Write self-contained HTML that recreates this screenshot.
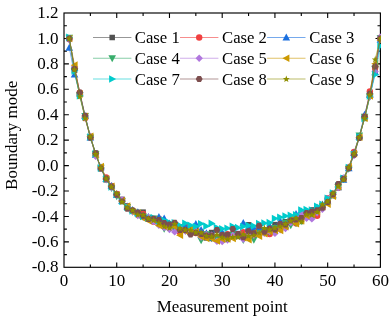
<!DOCTYPE html>
<html><head><meta charset="utf-8"><title>Boundary mode</title><style>html,body{margin:0;padding:0;background:#fff}body{width:392px;height:319px;overflow:hidden}#w{width:392px;height:319px;will-change:transform;transform:translateZ(0)}</style></head><body><div id="w">
<svg width="392" height="319" viewBox="0 0 392 319" style="display:block">
<rect width="392" height="319" fill="#fff"/>
<defs><clipPath id="cp"><rect x="63.4" y="12.4" width="317.59999999999997" height="255.5"/></clipPath></defs>
<rect x="64.0" y="13.0" width="316.4" height="254.3" fill="none" stroke="#000" stroke-width="1.15"/>
<path d="M90.37,267.3v-2.9M90.37,13.0v2.9M116.73,267.3v-4.9M116.73,13.0v4.9M143.10,267.3v-2.9M143.10,13.0v2.9M169.47,267.3v-4.9M169.47,13.0v4.9M195.83,267.3v-2.9M195.83,13.0v2.9M222.20,267.3v-4.9M222.20,13.0v4.9M248.57,267.3v-2.9M248.57,13.0v2.9M274.93,267.3v-4.9M274.93,13.0v4.9M301.30,267.3v-2.9M301.30,13.0v2.9M327.67,267.3v-4.9M327.67,13.0v4.9M354.03,267.3v-2.9M354.03,13.0v2.9M64.0,25.71h2.9M380.4,25.71h-2.9M64.0,38.43h4.9M380.4,38.43h-4.9M64.0,51.15h2.9M380.4,51.15h-2.9M64.0,63.86h4.9M380.4,63.86h-4.9M64.0,76.58h2.9M380.4,76.58h-2.9M64.0,89.29h4.9M380.4,89.29h-4.9M64.0,102.01h2.9M380.4,102.01h-2.9M64.0,114.72h4.9M380.4,114.72h-4.9M64.0,127.44h2.9M380.4,127.44h-2.9M64.0,140.15h4.9M380.4,140.15h-4.9M64.0,152.87h2.9M380.4,152.87h-2.9M64.0,165.58h4.9M380.4,165.58h-4.9M64.0,178.30h2.9M380.4,178.30h-2.9M64.0,191.01h4.9M380.4,191.01h-4.9M64.0,203.72h2.9M380.4,203.72h-2.9M64.0,216.44h4.9M380.4,216.44h-4.9M64.0,229.16h2.9M380.4,229.16h-2.9M64.0,241.87h4.9M380.4,241.87h-4.9M64.0,254.58h2.9M380.4,254.58h-2.9" stroke="#000" stroke-width="1.1" fill="none"/>
<g clip-path="url(#cp)">
<polyline fill="none" stroke="#515151" stroke-width="0.6" points="69.27,38.43 74.55,70.22 79.82,93.45 85.09,117.45 90.37,136.55 95.64,153.16 100.91,168.70 106.19,179.83 111.46,186.05 116.73,194.35 122.01,199.36 127.28,205.86 132.55,211.01 137.83,214.34 143.10,212.14 148.37,218.08 153.65,220.80 158.92,223.40 164.19,222.77 169.47,224.60 174.74,227.15 180.01,227.99 185.29,228.54 190.56,228.64 195.83,228.92 201.11,232.21 206.38,237.93 211.65,232.55 216.93,238.18 222.20,235.42 227.47,238.56 232.75,234.74 238.02,236.12 243.29,233.09 248.57,224.74 253.84,231.69 259.11,228.26 264.39,232.35 269.66,228.45 274.93,224.63 280.21,224.93 285.48,221.78 290.75,220.64 296.03,221.40 301.30,215.88 306.57,217.09 311.85,209.90 317.12,211.41 322.39,205.53 327.67,200.62 332.94,193.53 338.21,187.21 343.49,177.73 348.76,167.72 354.03,153.01 359.31,136.42 364.58,118.40 369.85,95.92 375.13,70.22 380.40,38.43"/>
<rect x="66.52" y="35.68" width="5.50" height="5.50" fill="#515151"/>
<rect x="71.80" y="67.47" width="5.50" height="5.50" fill="#515151"/>
<rect x="77.07" y="90.70" width="5.50" height="5.50" fill="#515151"/>
<rect x="82.34" y="114.70" width="5.50" height="5.50" fill="#515151"/>
<rect x="87.62" y="133.80" width="5.50" height="5.50" fill="#515151"/>
<rect x="92.89" y="150.41" width="5.50" height="5.50" fill="#515151"/>
<rect x="98.16" y="165.95" width="5.50" height="5.50" fill="#515151"/>
<rect x="103.44" y="177.08" width="5.50" height="5.50" fill="#515151"/>
<rect x="108.71" y="183.30" width="5.50" height="5.50" fill="#515151"/>
<rect x="113.98" y="191.60" width="5.50" height="5.50" fill="#515151"/>
<rect x="119.26" y="196.61" width="5.50" height="5.50" fill="#515151"/>
<rect x="124.53" y="203.11" width="5.50" height="5.50" fill="#515151"/>
<rect x="129.80" y="208.26" width="5.50" height="5.50" fill="#515151"/>
<rect x="135.08" y="211.59" width="5.50" height="5.50" fill="#515151"/>
<rect x="140.35" y="209.39" width="5.50" height="5.50" fill="#515151"/>
<rect x="145.62" y="215.33" width="5.50" height="5.50" fill="#515151"/>
<rect x="150.90" y="218.05" width="5.50" height="5.50" fill="#515151"/>
<rect x="156.17" y="220.65" width="5.50" height="5.50" fill="#515151"/>
<rect x="161.44" y="220.02" width="5.50" height="5.50" fill="#515151"/>
<rect x="166.72" y="221.85" width="5.50" height="5.50" fill="#515151"/>
<rect x="171.99" y="224.40" width="5.50" height="5.50" fill="#515151"/>
<rect x="177.26" y="225.24" width="5.50" height="5.50" fill="#515151"/>
<rect x="182.54" y="225.79" width="5.50" height="5.50" fill="#515151"/>
<rect x="187.81" y="225.89" width="5.50" height="5.50" fill="#515151"/>
<rect x="193.08" y="226.17" width="5.50" height="5.50" fill="#515151"/>
<rect x="198.36" y="229.46" width="5.50" height="5.50" fill="#515151"/>
<rect x="203.63" y="235.18" width="5.50" height="5.50" fill="#515151"/>
<rect x="208.90" y="229.80" width="5.50" height="5.50" fill="#515151"/>
<rect x="214.18" y="235.43" width="5.50" height="5.50" fill="#515151"/>
<rect x="219.45" y="232.67" width="5.50" height="5.50" fill="#515151"/>
<rect x="224.72" y="235.81" width="5.50" height="5.50" fill="#515151"/>
<rect x="230.00" y="231.99" width="5.50" height="5.50" fill="#515151"/>
<rect x="235.27" y="233.37" width="5.50" height="5.50" fill="#515151"/>
<rect x="240.54" y="230.34" width="5.50" height="5.50" fill="#515151"/>
<rect x="245.82" y="221.99" width="5.50" height="5.50" fill="#515151"/>
<rect x="251.09" y="228.94" width="5.50" height="5.50" fill="#515151"/>
<rect x="256.36" y="225.51" width="5.50" height="5.50" fill="#515151"/>
<rect x="261.64" y="229.60" width="5.50" height="5.50" fill="#515151"/>
<rect x="266.91" y="225.70" width="5.50" height="5.50" fill="#515151"/>
<rect x="272.18" y="221.88" width="5.50" height="5.50" fill="#515151"/>
<rect x="277.46" y="222.18" width="5.50" height="5.50" fill="#515151"/>
<rect x="282.73" y="219.03" width="5.50" height="5.50" fill="#515151"/>
<rect x="288.00" y="217.89" width="5.50" height="5.50" fill="#515151"/>
<rect x="293.28" y="218.65" width="5.50" height="5.50" fill="#515151"/>
<rect x="298.55" y="213.13" width="5.50" height="5.50" fill="#515151"/>
<rect x="303.82" y="214.34" width="5.50" height="5.50" fill="#515151"/>
<rect x="309.10" y="207.15" width="5.50" height="5.50" fill="#515151"/>
<rect x="314.37" y="208.66" width="5.50" height="5.50" fill="#515151"/>
<rect x="319.64" y="202.78" width="5.50" height="5.50" fill="#515151"/>
<rect x="324.92" y="197.87" width="5.50" height="5.50" fill="#515151"/>
<rect x="330.19" y="190.78" width="5.50" height="5.50" fill="#515151"/>
<rect x="335.46" y="184.46" width="5.50" height="5.50" fill="#515151"/>
<rect x="340.74" y="174.98" width="5.50" height="5.50" fill="#515151"/>
<rect x="346.01" y="164.97" width="5.50" height="5.50" fill="#515151"/>
<rect x="351.28" y="150.26" width="5.50" height="5.50" fill="#515151"/>
<rect x="356.56" y="133.67" width="5.50" height="5.50" fill="#515151"/>
<rect x="361.83" y="115.65" width="5.50" height="5.50" fill="#515151"/>
<rect x="367.10" y="93.17" width="5.50" height="5.50" fill="#515151"/>
<rect x="372.38" y="67.47" width="5.50" height="5.50" fill="#515151"/>
<rect x="377.65" y="35.68" width="5.50" height="5.50" fill="#515151"/>
<polyline fill="none" stroke="#F14040" stroke-width="0.6" points="69.27,39.07 74.55,68.31 79.82,92.61 85.09,118.06 90.37,137.87 95.64,154.49 100.91,167.09 106.19,177.33 111.46,185.83 116.73,193.90 122.01,200.25 127.28,206.42 132.55,211.07 137.83,213.54 143.10,213.98 148.37,219.02 153.65,221.68 158.92,218.79 164.19,223.83 169.47,224.34 174.74,226.04 180.01,232.25 185.29,225.20 190.56,227.91 195.83,233.05 201.11,232.80 206.38,235.21 211.65,238.28 216.93,236.93 222.20,236.01 227.47,234.22 232.75,234.94 238.02,236.00 243.29,232.24 248.57,236.46 253.84,231.56 259.11,229.52 264.39,231.77 269.66,233.99 274.93,230.33 280.21,226.04 285.48,223.30 290.75,219.06 296.03,223.26 301.30,218.90 306.57,215.53 311.85,215.21 317.12,215.77 322.39,206.17 327.67,198.08 332.94,193.81 338.21,187.70 343.49,179.08 348.76,167.42 354.03,151.92 359.31,136.42 364.58,117.90 369.85,91.34 375.13,67.67 380.40,37.79"/>
<circle cx="69.27" cy="39.07" r="3.20" fill="#F14040"/>
<circle cx="74.55" cy="68.31" r="3.20" fill="#F14040"/>
<circle cx="79.82" cy="92.61" r="3.20" fill="#F14040"/>
<circle cx="85.09" cy="118.06" r="3.20" fill="#F14040"/>
<circle cx="90.37" cy="137.87" r="3.20" fill="#F14040"/>
<circle cx="95.64" cy="154.49" r="3.20" fill="#F14040"/>
<circle cx="100.91" cy="167.09" r="3.20" fill="#F14040"/>
<circle cx="106.19" cy="177.33" r="3.20" fill="#F14040"/>
<circle cx="111.46" cy="185.83" r="3.20" fill="#F14040"/>
<circle cx="116.73" cy="193.90" r="3.20" fill="#F14040"/>
<circle cx="122.01" cy="200.25" r="3.20" fill="#F14040"/>
<circle cx="127.28" cy="206.42" r="3.20" fill="#F14040"/>
<circle cx="132.55" cy="211.07" r="3.20" fill="#F14040"/>
<circle cx="137.83" cy="213.54" r="3.20" fill="#F14040"/>
<circle cx="143.10" cy="213.98" r="3.20" fill="#F14040"/>
<circle cx="148.37" cy="219.02" r="3.20" fill="#F14040"/>
<circle cx="153.65" cy="221.68" r="3.20" fill="#F14040"/>
<circle cx="158.92" cy="218.79" r="3.20" fill="#F14040"/>
<circle cx="164.19" cy="223.83" r="3.20" fill="#F14040"/>
<circle cx="169.47" cy="224.34" r="3.20" fill="#F14040"/>
<circle cx="174.74" cy="226.04" r="3.20" fill="#F14040"/>
<circle cx="180.01" cy="232.25" r="3.20" fill="#F14040"/>
<circle cx="185.29" cy="225.20" r="3.20" fill="#F14040"/>
<circle cx="190.56" cy="227.91" r="3.20" fill="#F14040"/>
<circle cx="195.83" cy="233.05" r="3.20" fill="#F14040"/>
<circle cx="201.11" cy="232.80" r="3.20" fill="#F14040"/>
<circle cx="206.38" cy="235.21" r="3.20" fill="#F14040"/>
<circle cx="211.65" cy="238.28" r="3.20" fill="#F14040"/>
<circle cx="216.93" cy="236.93" r="3.20" fill="#F14040"/>
<circle cx="222.20" cy="236.01" r="3.20" fill="#F14040"/>
<circle cx="227.47" cy="234.22" r="3.20" fill="#F14040"/>
<circle cx="232.75" cy="234.94" r="3.20" fill="#F14040"/>
<circle cx="238.02" cy="236.00" r="3.20" fill="#F14040"/>
<circle cx="243.29" cy="232.24" r="3.20" fill="#F14040"/>
<circle cx="248.57" cy="236.46" r="3.20" fill="#F14040"/>
<circle cx="253.84" cy="231.56" r="3.20" fill="#F14040"/>
<circle cx="259.11" cy="229.52" r="3.20" fill="#F14040"/>
<circle cx="264.39" cy="231.77" r="3.20" fill="#F14040"/>
<circle cx="269.66" cy="233.99" r="3.20" fill="#F14040"/>
<circle cx="274.93" cy="230.33" r="3.20" fill="#F14040"/>
<circle cx="280.21" cy="226.04" r="3.20" fill="#F14040"/>
<circle cx="285.48" cy="223.30" r="3.20" fill="#F14040"/>
<circle cx="290.75" cy="219.06" r="3.20" fill="#F14040"/>
<circle cx="296.03" cy="223.26" r="3.20" fill="#F14040"/>
<circle cx="301.30" cy="218.90" r="3.20" fill="#F14040"/>
<circle cx="306.57" cy="215.53" r="3.20" fill="#F14040"/>
<circle cx="311.85" cy="215.21" r="3.20" fill="#F14040"/>
<circle cx="317.12" cy="215.77" r="3.20" fill="#F14040"/>
<circle cx="322.39" cy="206.17" r="3.20" fill="#F14040"/>
<circle cx="327.67" cy="198.08" r="3.20" fill="#F14040"/>
<circle cx="332.94" cy="193.81" r="3.20" fill="#F14040"/>
<circle cx="338.21" cy="187.70" r="3.20" fill="#F14040"/>
<circle cx="343.49" cy="179.08" r="3.20" fill="#F14040"/>
<circle cx="348.76" cy="167.42" r="3.20" fill="#F14040"/>
<circle cx="354.03" cy="151.92" r="3.20" fill="#F14040"/>
<circle cx="359.31" cy="136.42" r="3.20" fill="#F14040"/>
<circle cx="364.58" cy="117.90" r="3.20" fill="#F14040"/>
<circle cx="369.85" cy="91.34" r="3.20" fill="#F14040"/>
<circle cx="375.13" cy="67.67" r="3.20" fill="#F14040"/>
<circle cx="380.40" cy="37.79" r="3.20" fill="#F14040"/>
<polyline fill="none" stroke="#1A6FDF" stroke-width="0.6" points="69.27,47.58 74.55,74.29 79.82,93.49 85.09,115.92 90.37,137.51 95.64,154.61 100.91,167.09 106.19,178.97 111.46,185.95 116.73,194.62 122.01,200.98 127.28,206.44 132.55,209.91 137.83,212.23 143.10,215.65 148.37,216.95 153.65,220.56 158.92,216.81 164.19,218.39 169.47,223.49 174.74,225.48 180.01,228.63 185.29,226.59 190.56,227.55 195.83,224.01 201.11,229.83 206.38,233.20 211.65,237.86 216.93,229.06 222.20,232.26 227.47,236.60 232.75,232.03 238.02,235.84 243.29,222.91 248.57,227.72 253.84,227.90 259.11,228.43 264.39,232.04 269.66,225.77 274.93,227.70 280.21,220.98 285.48,225.55 290.75,220.79 296.03,213.87 301.30,211.32 306.57,216.01 311.85,214.97 317.12,207.68 322.39,204.28 327.67,201.26 332.94,195.03 338.21,187.11 343.49,179.70 348.76,168.22 354.03,153.02 359.31,136.36 364.58,114.74 369.85,95.02 375.13,72.12 380.40,39.70"/>
<polygon points="69.27,43.68 73.07,50.68 65.47,50.68" fill="#1A6FDF"/>
<polygon points="74.55,70.39 78.35,77.39 70.75,77.39" fill="#1A6FDF"/>
<polygon points="79.82,89.59 83.62,96.59 76.02,96.59" fill="#1A6FDF"/>
<polygon points="85.09,112.02 88.89,119.02 81.29,119.02" fill="#1A6FDF"/>
<polygon points="90.37,133.61 94.17,140.61 86.57,140.61" fill="#1A6FDF"/>
<polygon points="95.64,150.71 99.44,157.71 91.84,157.71" fill="#1A6FDF"/>
<polygon points="100.91,163.19 104.71,170.19 97.11,170.19" fill="#1A6FDF"/>
<polygon points="106.19,175.07 109.99,182.07 102.39,182.07" fill="#1A6FDF"/>
<polygon points="111.46,182.05 115.26,189.05 107.66,189.05" fill="#1A6FDF"/>
<polygon points="116.73,190.72 120.53,197.72 112.93,197.72" fill="#1A6FDF"/>
<polygon points="122.01,197.08 125.81,204.08 118.21,204.08" fill="#1A6FDF"/>
<polygon points="127.28,202.54 131.08,209.54 123.48,209.54" fill="#1A6FDF"/>
<polygon points="132.55,206.01 136.35,213.01 128.75,213.01" fill="#1A6FDF"/>
<polygon points="137.83,208.33 141.63,215.33 134.03,215.33" fill="#1A6FDF"/>
<polygon points="143.10,211.75 146.90,218.75 139.30,218.75" fill="#1A6FDF"/>
<polygon points="148.37,213.05 152.17,220.05 144.57,220.05" fill="#1A6FDF"/>
<polygon points="153.65,216.66 157.45,223.66 149.85,223.66" fill="#1A6FDF"/>
<polygon points="158.92,212.91 162.72,219.91 155.12,219.91" fill="#1A6FDF"/>
<polygon points="164.19,214.49 167.99,221.49 160.39,221.49" fill="#1A6FDF"/>
<polygon points="169.47,219.59 173.27,226.59 165.67,226.59" fill="#1A6FDF"/>
<polygon points="174.74,221.58 178.54,228.58 170.94,228.58" fill="#1A6FDF"/>
<polygon points="180.01,224.73 183.81,231.73 176.21,231.73" fill="#1A6FDF"/>
<polygon points="185.29,222.69 189.09,229.69 181.49,229.69" fill="#1A6FDF"/>
<polygon points="190.56,223.65 194.36,230.65 186.76,230.65" fill="#1A6FDF"/>
<polygon points="195.83,220.11 199.63,227.11 192.03,227.11" fill="#1A6FDF"/>
<polygon points="201.11,225.93 204.91,232.93 197.31,232.93" fill="#1A6FDF"/>
<polygon points="206.38,229.30 210.18,236.30 202.58,236.30" fill="#1A6FDF"/>
<polygon points="211.65,233.96 215.45,240.96 207.85,240.96" fill="#1A6FDF"/>
<polygon points="216.93,225.16 220.73,232.16 213.13,232.16" fill="#1A6FDF"/>
<polygon points="222.20,228.36 226.00,235.36 218.40,235.36" fill="#1A6FDF"/>
<polygon points="227.47,232.70 231.27,239.70 223.67,239.70" fill="#1A6FDF"/>
<polygon points="232.75,228.13 236.55,235.13 228.95,235.13" fill="#1A6FDF"/>
<polygon points="238.02,231.94 241.82,238.94 234.22,238.94" fill="#1A6FDF"/>
<polygon points="243.29,219.01 247.09,226.01 239.49,226.01" fill="#1A6FDF"/>
<polygon points="248.57,223.82 252.37,230.82 244.77,230.82" fill="#1A6FDF"/>
<polygon points="253.84,224.00 257.64,231.00 250.04,231.00" fill="#1A6FDF"/>
<polygon points="259.11,224.53 262.91,231.53 255.31,231.53" fill="#1A6FDF"/>
<polygon points="264.39,228.14 268.19,235.14 260.59,235.14" fill="#1A6FDF"/>
<polygon points="269.66,221.87 273.46,228.87 265.86,228.87" fill="#1A6FDF"/>
<polygon points="274.93,223.80 278.73,230.80 271.13,230.80" fill="#1A6FDF"/>
<polygon points="280.21,217.08 284.01,224.08 276.41,224.08" fill="#1A6FDF"/>
<polygon points="285.48,221.65 289.28,228.65 281.68,228.65" fill="#1A6FDF"/>
<polygon points="290.75,216.89 294.55,223.89 286.95,223.89" fill="#1A6FDF"/>
<polygon points="296.03,209.97 299.83,216.97 292.23,216.97" fill="#1A6FDF"/>
<polygon points="301.30,207.42 305.10,214.42 297.50,214.42" fill="#1A6FDF"/>
<polygon points="306.57,212.11 310.37,219.11 302.77,219.11" fill="#1A6FDF"/>
<polygon points="311.85,211.07 315.65,218.07 308.05,218.07" fill="#1A6FDF"/>
<polygon points="317.12,203.78 320.92,210.78 313.32,210.78" fill="#1A6FDF"/>
<polygon points="322.39,200.38 326.19,207.38 318.59,207.38" fill="#1A6FDF"/>
<polygon points="327.67,197.36 331.47,204.36 323.87,204.36" fill="#1A6FDF"/>
<polygon points="332.94,191.13 336.74,198.13 329.14,198.13" fill="#1A6FDF"/>
<polygon points="338.21,183.21 342.01,190.21 334.41,190.21" fill="#1A6FDF"/>
<polygon points="343.49,175.80 347.29,182.80 339.69,182.80" fill="#1A6FDF"/>
<polygon points="348.76,164.32 352.56,171.32 344.96,171.32" fill="#1A6FDF"/>
<polygon points="354.03,149.12 357.83,156.12 350.23,156.12" fill="#1A6FDF"/>
<polygon points="359.31,132.46 363.11,139.46 355.51,139.46" fill="#1A6FDF"/>
<polygon points="364.58,110.84 368.38,117.84 360.78,117.84" fill="#1A6FDF"/>
<polygon points="369.85,91.12 373.65,98.12 366.05,98.12" fill="#1A6FDF"/>
<polygon points="375.13,68.22 378.93,75.22 371.33,75.22" fill="#1A6FDF"/>
<polygon points="380.40,35.80 384.20,42.80 376.60,42.80" fill="#1A6FDF"/>
<polyline fill="none" stroke="#37AD6B" stroke-width="0.6" points="69.27,37.79 74.55,71.49 79.82,95.49 85.09,116.21 90.37,137.61 95.64,154.06 100.91,167.95 106.19,179.67 111.46,188.21 116.73,196.23 122.01,201.06 127.28,207.09 132.55,211.97 137.83,212.88 143.10,216.49 148.37,217.87 153.65,218.72 158.92,224.41 164.19,228.76 169.47,225.31 174.74,230.11 180.01,227.10 185.29,230.83 190.56,230.40 195.83,232.27 201.11,240.28 206.38,234.41 211.65,238.41 216.93,239.12 222.20,238.60 227.47,235.69 232.75,235.16 238.02,234.34 243.29,240.16 248.57,236.68 253.84,239.85 259.11,233.09 264.39,230.25 269.66,232.15 274.93,228.18 280.21,226.69 285.48,222.78 290.75,225.42 296.03,223.46 301.30,221.23 306.57,213.69 311.85,213.21 317.12,212.18 322.39,207.34 327.67,201.23 332.94,194.87 338.21,187.03 343.49,179.02 348.76,168.73 354.03,154.71 359.31,135.50 364.58,116.92 369.85,96.74 375.13,68.95 380.40,38.43"/>
<polygon points="69.27,41.69 73.07,34.69 65.47,34.69" fill="#37AD6B"/>
<polygon points="74.55,75.39 78.35,68.39 70.75,68.39" fill="#37AD6B"/>
<polygon points="79.82,99.39 83.62,92.39 76.02,92.39" fill="#37AD6B"/>
<polygon points="85.09,120.11 88.89,113.11 81.29,113.11" fill="#37AD6B"/>
<polygon points="90.37,141.51 94.17,134.51 86.57,134.51" fill="#37AD6B"/>
<polygon points="95.64,157.96 99.44,150.96 91.84,150.96" fill="#37AD6B"/>
<polygon points="100.91,171.85 104.71,164.85 97.11,164.85" fill="#37AD6B"/>
<polygon points="106.19,183.57 109.99,176.57 102.39,176.57" fill="#37AD6B"/>
<polygon points="111.46,192.11 115.26,185.11 107.66,185.11" fill="#37AD6B"/>
<polygon points="116.73,200.13 120.53,193.13 112.93,193.13" fill="#37AD6B"/>
<polygon points="122.01,204.96 125.81,197.96 118.21,197.96" fill="#37AD6B"/>
<polygon points="127.28,210.99 131.08,203.99 123.48,203.99" fill="#37AD6B"/>
<polygon points="132.55,215.87 136.35,208.87 128.75,208.87" fill="#37AD6B"/>
<polygon points="137.83,216.78 141.63,209.78 134.03,209.78" fill="#37AD6B"/>
<polygon points="143.10,220.39 146.90,213.39 139.30,213.39" fill="#37AD6B"/>
<polygon points="148.37,221.77 152.17,214.77 144.57,214.77" fill="#37AD6B"/>
<polygon points="153.65,222.62 157.45,215.62 149.85,215.62" fill="#37AD6B"/>
<polygon points="158.92,228.31 162.72,221.31 155.12,221.31" fill="#37AD6B"/>
<polygon points="164.19,232.66 167.99,225.66 160.39,225.66" fill="#37AD6B"/>
<polygon points="169.47,229.21 173.27,222.21 165.67,222.21" fill="#37AD6B"/>
<polygon points="174.74,234.01 178.54,227.01 170.94,227.01" fill="#37AD6B"/>
<polygon points="180.01,231.00 183.81,224.00 176.21,224.00" fill="#37AD6B"/>
<polygon points="185.29,234.73 189.09,227.73 181.49,227.73" fill="#37AD6B"/>
<polygon points="190.56,234.30 194.36,227.30 186.76,227.30" fill="#37AD6B"/>
<polygon points="195.83,236.17 199.63,229.17 192.03,229.17" fill="#37AD6B"/>
<polygon points="201.11,244.18 204.91,237.18 197.31,237.18" fill="#37AD6B"/>
<polygon points="206.38,238.31 210.18,231.31 202.58,231.31" fill="#37AD6B"/>
<polygon points="211.65,242.31 215.45,235.31 207.85,235.31" fill="#37AD6B"/>
<polygon points="216.93,243.02 220.73,236.02 213.13,236.02" fill="#37AD6B"/>
<polygon points="222.20,242.50 226.00,235.50 218.40,235.50" fill="#37AD6B"/>
<polygon points="227.47,239.59 231.27,232.59 223.67,232.59" fill="#37AD6B"/>
<polygon points="232.75,239.06 236.55,232.06 228.95,232.06" fill="#37AD6B"/>
<polygon points="238.02,238.24 241.82,231.24 234.22,231.24" fill="#37AD6B"/>
<polygon points="243.29,244.06 247.09,237.06 239.49,237.06" fill="#37AD6B"/>
<polygon points="248.57,240.58 252.37,233.58 244.77,233.58" fill="#37AD6B"/>
<polygon points="253.84,243.75 257.64,236.75 250.04,236.75" fill="#37AD6B"/>
<polygon points="259.11,236.99 262.91,229.99 255.31,229.99" fill="#37AD6B"/>
<polygon points="264.39,234.15 268.19,227.15 260.59,227.15" fill="#37AD6B"/>
<polygon points="269.66,236.05 273.46,229.05 265.86,229.05" fill="#37AD6B"/>
<polygon points="274.93,232.08 278.73,225.08 271.13,225.08" fill="#37AD6B"/>
<polygon points="280.21,230.59 284.01,223.59 276.41,223.59" fill="#37AD6B"/>
<polygon points="285.48,226.68 289.28,219.68 281.68,219.68" fill="#37AD6B"/>
<polygon points="290.75,229.32 294.55,222.32 286.95,222.32" fill="#37AD6B"/>
<polygon points="296.03,227.36 299.83,220.36 292.23,220.36" fill="#37AD6B"/>
<polygon points="301.30,225.13 305.10,218.13 297.50,218.13" fill="#37AD6B"/>
<polygon points="306.57,217.59 310.37,210.59 302.77,210.59" fill="#37AD6B"/>
<polygon points="311.85,217.11 315.65,210.11 308.05,210.11" fill="#37AD6B"/>
<polygon points="317.12,216.08 320.92,209.08 313.32,209.08" fill="#37AD6B"/>
<polygon points="322.39,211.24 326.19,204.24 318.59,204.24" fill="#37AD6B"/>
<polygon points="327.67,205.13 331.47,198.13 323.87,198.13" fill="#37AD6B"/>
<polygon points="332.94,198.77 336.74,191.77 329.14,191.77" fill="#37AD6B"/>
<polygon points="338.21,190.93 342.01,183.93 334.41,183.93" fill="#37AD6B"/>
<polygon points="343.49,182.92 347.29,175.92 339.69,175.92" fill="#37AD6B"/>
<polygon points="348.76,172.63 352.56,165.63 344.96,165.63" fill="#37AD6B"/>
<polygon points="354.03,158.61 357.83,151.61 350.23,151.61" fill="#37AD6B"/>
<polygon points="359.31,139.40 363.11,132.40 355.51,132.40" fill="#37AD6B"/>
<polygon points="364.58,120.82 368.38,113.82 360.78,113.82" fill="#37AD6B"/>
<polygon points="369.85,100.64 373.65,93.64 366.05,93.64" fill="#37AD6B"/>
<polygon points="375.13,72.85 378.93,65.85 371.33,65.85" fill="#37AD6B"/>
<polygon points="380.40,42.33 384.20,35.33 376.60,35.33" fill="#37AD6B"/>
<polyline fill="none" stroke="#B177DE" stroke-width="0.6" points="69.27,39.70 74.55,67.04 79.82,94.38 85.09,117.49 90.37,136.18 95.64,156.24 100.91,167.85 106.19,179.22 111.46,187.26 116.73,194.80 122.01,199.99 127.28,207.20 132.55,211.63 137.83,215.57 143.10,217.03 148.37,217.47 153.65,221.65 158.92,225.18 164.19,227.51 169.47,229.51 174.74,231.92 180.01,227.83 185.29,231.03 190.56,233.65 195.83,230.84 201.11,237.10 206.38,234.58 211.65,235.10 216.93,241.28 222.20,241.56 227.47,240.04 232.75,235.36 238.02,233.91 243.29,239.37 248.57,232.98 253.84,235.29 259.11,234.05 264.39,233.28 269.66,231.34 274.93,233.42 280.21,229.92 285.48,228.45 290.75,222.50 296.03,216.77 301.30,213.48 306.57,218.36 311.85,218.89 317.12,212.83 322.39,209.26 327.67,198.79 332.94,194.48 338.21,187.59 343.49,177.85 348.76,167.14 354.03,155.58 359.31,137.44 364.58,116.53 369.85,96.58 375.13,71.49 380.40,37.16"/>
<polygon points="69.27,36.00 72.97,39.70 69.27,43.40 65.57,39.70" fill="#B177DE"/>
<polygon points="74.55,63.34 78.25,67.04 74.55,70.74 70.85,67.04" fill="#B177DE"/>
<polygon points="79.82,90.68 83.52,94.38 79.82,98.08 76.12,94.38" fill="#B177DE"/>
<polygon points="85.09,113.79 88.79,117.49 85.09,121.19 81.39,117.49" fill="#B177DE"/>
<polygon points="90.37,132.48 94.07,136.18 90.37,139.88 86.67,136.18" fill="#B177DE"/>
<polygon points="95.64,152.54 99.34,156.24 95.64,159.94 91.94,156.24" fill="#B177DE"/>
<polygon points="100.91,164.15 104.61,167.85 100.91,171.55 97.21,167.85" fill="#B177DE"/>
<polygon points="106.19,175.52 109.89,179.22 106.19,182.92 102.49,179.22" fill="#B177DE"/>
<polygon points="111.46,183.56 115.16,187.26 111.46,190.96 107.76,187.26" fill="#B177DE"/>
<polygon points="116.73,191.10 120.43,194.80 116.73,198.50 113.03,194.80" fill="#B177DE"/>
<polygon points="122.01,196.29 125.71,199.99 122.01,203.69 118.31,199.99" fill="#B177DE"/>
<polygon points="127.28,203.50 130.98,207.20 127.28,210.90 123.58,207.20" fill="#B177DE"/>
<polygon points="132.55,207.93 136.25,211.63 132.55,215.33 128.85,211.63" fill="#B177DE"/>
<polygon points="137.83,211.87 141.53,215.57 137.83,219.27 134.13,215.57" fill="#B177DE"/>
<polygon points="143.10,213.33 146.80,217.03 143.10,220.73 139.40,217.03" fill="#B177DE"/>
<polygon points="148.37,213.77 152.07,217.47 148.37,221.17 144.67,217.47" fill="#B177DE"/>
<polygon points="153.65,217.95 157.35,221.65 153.65,225.35 149.95,221.65" fill="#B177DE"/>
<polygon points="158.92,221.48 162.62,225.18 158.92,228.88 155.22,225.18" fill="#B177DE"/>
<polygon points="164.19,223.81 167.89,227.51 164.19,231.21 160.49,227.51" fill="#B177DE"/>
<polygon points="169.47,225.81 173.17,229.51 169.47,233.21 165.77,229.51" fill="#B177DE"/>
<polygon points="174.74,228.22 178.44,231.92 174.74,235.62 171.04,231.92" fill="#B177DE"/>
<polygon points="180.01,224.13 183.71,227.83 180.01,231.53 176.31,227.83" fill="#B177DE"/>
<polygon points="185.29,227.33 188.99,231.03 185.29,234.73 181.59,231.03" fill="#B177DE"/>
<polygon points="190.56,229.95 194.26,233.65 190.56,237.35 186.86,233.65" fill="#B177DE"/>
<polygon points="195.83,227.14 199.53,230.84 195.83,234.54 192.13,230.84" fill="#B177DE"/>
<polygon points="201.11,233.40 204.81,237.10 201.11,240.80 197.41,237.10" fill="#B177DE"/>
<polygon points="206.38,230.88 210.08,234.58 206.38,238.28 202.68,234.58" fill="#B177DE"/>
<polygon points="211.65,231.40 215.35,235.10 211.65,238.80 207.95,235.10" fill="#B177DE"/>
<polygon points="216.93,237.58 220.63,241.28 216.93,244.98 213.23,241.28" fill="#B177DE"/>
<polygon points="222.20,237.86 225.90,241.56 222.20,245.26 218.50,241.56" fill="#B177DE"/>
<polygon points="227.47,236.34 231.17,240.04 227.47,243.74 223.77,240.04" fill="#B177DE"/>
<polygon points="232.75,231.66 236.45,235.36 232.75,239.06 229.05,235.36" fill="#B177DE"/>
<polygon points="238.02,230.21 241.72,233.91 238.02,237.61 234.32,233.91" fill="#B177DE"/>
<polygon points="243.29,235.67 246.99,239.37 243.29,243.07 239.59,239.37" fill="#B177DE"/>
<polygon points="248.57,229.28 252.27,232.98 248.57,236.68 244.87,232.98" fill="#B177DE"/>
<polygon points="253.84,231.59 257.54,235.29 253.84,238.99 250.14,235.29" fill="#B177DE"/>
<polygon points="259.11,230.35 262.81,234.05 259.11,237.75 255.41,234.05" fill="#B177DE"/>
<polygon points="264.39,229.58 268.09,233.28 264.39,236.98 260.69,233.28" fill="#B177DE"/>
<polygon points="269.66,227.64 273.36,231.34 269.66,235.04 265.96,231.34" fill="#B177DE"/>
<polygon points="274.93,229.72 278.63,233.42 274.93,237.12 271.23,233.42" fill="#B177DE"/>
<polygon points="280.21,226.22 283.91,229.92 280.21,233.62 276.51,229.92" fill="#B177DE"/>
<polygon points="285.48,224.75 289.18,228.45 285.48,232.15 281.78,228.45" fill="#B177DE"/>
<polygon points="290.75,218.80 294.45,222.50 290.75,226.20 287.05,222.50" fill="#B177DE"/>
<polygon points="296.03,213.07 299.73,216.77 296.03,220.47 292.33,216.77" fill="#B177DE"/>
<polygon points="301.30,209.78 305.00,213.48 301.30,217.18 297.60,213.48" fill="#B177DE"/>
<polygon points="306.57,214.66 310.27,218.36 306.57,222.06 302.87,218.36" fill="#B177DE"/>
<polygon points="311.85,215.19 315.55,218.89 311.85,222.59 308.15,218.89" fill="#B177DE"/>
<polygon points="317.12,209.13 320.82,212.83 317.12,216.53 313.42,212.83" fill="#B177DE"/>
<polygon points="322.39,205.56 326.09,209.26 322.39,212.96 318.69,209.26" fill="#B177DE"/>
<polygon points="327.67,195.09 331.37,198.79 327.67,202.49 323.97,198.79" fill="#B177DE"/>
<polygon points="332.94,190.78 336.64,194.48 332.94,198.18 329.24,194.48" fill="#B177DE"/>
<polygon points="338.21,183.89 341.91,187.59 338.21,191.29 334.51,187.59" fill="#B177DE"/>
<polygon points="343.49,174.15 347.19,177.85 343.49,181.55 339.79,177.85" fill="#B177DE"/>
<polygon points="348.76,163.44 352.46,167.14 348.76,170.84 345.06,167.14" fill="#B177DE"/>
<polygon points="354.03,151.88 357.73,155.58 354.03,159.28 350.33,155.58" fill="#B177DE"/>
<polygon points="359.31,133.74 363.01,137.44 359.31,141.14 355.61,137.44" fill="#B177DE"/>
<polygon points="364.58,112.83 368.28,116.53 364.58,120.23 360.88,116.53" fill="#B177DE"/>
<polygon points="369.85,92.88 373.55,96.58 369.85,100.28 366.15,96.58" fill="#B177DE"/>
<polygon points="375.13,67.79 378.83,71.49 375.13,75.19 371.43,71.49" fill="#B177DE"/>
<polygon points="380.40,33.46 384.10,37.16 380.40,40.86 376.70,37.16" fill="#B177DE"/>
<polyline fill="none" stroke="#CC9900" stroke-width="0.6" points="69.27,38.43 74.55,65.13 79.82,93.97 85.09,116.19 90.37,136.24 95.64,155.29 100.91,166.64 106.19,179.02 111.46,186.35 116.73,195.04 122.01,200.92 127.28,206.11 132.55,212.07 137.83,212.96 143.10,218.19 148.37,220.66 153.65,220.09 158.92,225.43 164.19,226.16 169.47,225.69 174.74,226.59 180.01,235.15 185.29,231.28 190.56,229.16 195.83,232.12 201.11,236.73 206.38,238.49 211.65,238.39 216.93,240.97 222.20,239.08 227.47,238.89 232.75,238.53 238.02,234.82 243.29,237.59 248.57,239.67 253.84,232.46 259.11,236.32 264.39,233.67 269.66,231.51 274.93,230.50 280.21,230.56 285.48,226.70 290.75,219.05 296.03,223.80 301.30,220.61 306.57,215.76 311.85,214.51 317.12,211.13 322.39,206.74 327.67,204.31 332.94,196.28 338.21,186.77 343.49,178.27 348.76,166.46 354.03,153.72 359.31,137.18 364.58,118.16 369.85,95.95 375.13,63.86 380.40,40.34"/>
<polygon points="65.37,38.43 72.37,34.63 72.37,42.23" fill="#CC9900"/>
<polygon points="70.65,65.13 77.65,61.33 77.65,68.93" fill="#CC9900"/>
<polygon points="75.92,93.97 82.92,90.17 82.92,97.77" fill="#CC9900"/>
<polygon points="81.19,116.19 88.19,112.39 88.19,119.99" fill="#CC9900"/>
<polygon points="86.47,136.24 93.47,132.44 93.47,140.04" fill="#CC9900"/>
<polygon points="91.74,155.29 98.74,151.49 98.74,159.09" fill="#CC9900"/>
<polygon points="97.01,166.64 104.01,162.84 104.01,170.44" fill="#CC9900"/>
<polygon points="102.29,179.02 109.29,175.22 109.29,182.82" fill="#CC9900"/>
<polygon points="107.56,186.35 114.56,182.55 114.56,190.15" fill="#CC9900"/>
<polygon points="112.83,195.04 119.83,191.24 119.83,198.84" fill="#CC9900"/>
<polygon points="118.11,200.92 125.11,197.12 125.11,204.72" fill="#CC9900"/>
<polygon points="123.38,206.11 130.38,202.31 130.38,209.91" fill="#CC9900"/>
<polygon points="128.65,212.07 135.65,208.27 135.65,215.87" fill="#CC9900"/>
<polygon points="133.93,212.96 140.93,209.16 140.93,216.76" fill="#CC9900"/>
<polygon points="139.20,218.19 146.20,214.39 146.20,221.99" fill="#CC9900"/>
<polygon points="144.47,220.66 151.47,216.86 151.47,224.46" fill="#CC9900"/>
<polygon points="149.75,220.09 156.75,216.29 156.75,223.89" fill="#CC9900"/>
<polygon points="155.02,225.43 162.02,221.63 162.02,229.23" fill="#CC9900"/>
<polygon points="160.29,226.16 167.29,222.36 167.29,229.96" fill="#CC9900"/>
<polygon points="165.57,225.69 172.57,221.89 172.57,229.49" fill="#CC9900"/>
<polygon points="170.84,226.59 177.84,222.79 177.84,230.39" fill="#CC9900"/>
<polygon points="176.11,235.15 183.11,231.35 183.11,238.95" fill="#CC9900"/>
<polygon points="181.39,231.28 188.39,227.48 188.39,235.08" fill="#CC9900"/>
<polygon points="186.66,229.16 193.66,225.36 193.66,232.96" fill="#CC9900"/>
<polygon points="191.93,232.12 198.93,228.32 198.93,235.92" fill="#CC9900"/>
<polygon points="197.21,236.73 204.21,232.93 204.21,240.53" fill="#CC9900"/>
<polygon points="202.48,238.49 209.48,234.69 209.48,242.29" fill="#CC9900"/>
<polygon points="207.75,238.39 214.75,234.59 214.75,242.19" fill="#CC9900"/>
<polygon points="213.03,240.97 220.03,237.17 220.03,244.77" fill="#CC9900"/>
<polygon points="218.30,239.08 225.30,235.28 225.30,242.88" fill="#CC9900"/>
<polygon points="223.57,238.89 230.57,235.09 230.57,242.69" fill="#CC9900"/>
<polygon points="228.85,238.53 235.85,234.73 235.85,242.33" fill="#CC9900"/>
<polygon points="234.12,234.82 241.12,231.02 241.12,238.62" fill="#CC9900"/>
<polygon points="239.39,237.59 246.39,233.79 246.39,241.39" fill="#CC9900"/>
<polygon points="244.67,239.67 251.67,235.87 251.67,243.47" fill="#CC9900"/>
<polygon points="249.94,232.46 256.94,228.66 256.94,236.26" fill="#CC9900"/>
<polygon points="255.21,236.32 262.21,232.52 262.21,240.12" fill="#CC9900"/>
<polygon points="260.49,233.67 267.49,229.87 267.49,237.47" fill="#CC9900"/>
<polygon points="265.76,231.51 272.76,227.71 272.76,235.31" fill="#CC9900"/>
<polygon points="271.03,230.50 278.03,226.70 278.03,234.30" fill="#CC9900"/>
<polygon points="276.31,230.56 283.31,226.76 283.31,234.36" fill="#CC9900"/>
<polygon points="281.58,226.70 288.58,222.90 288.58,230.50" fill="#CC9900"/>
<polygon points="286.85,219.05 293.85,215.25 293.85,222.85" fill="#CC9900"/>
<polygon points="292.13,223.80 299.13,220.00 299.13,227.60" fill="#CC9900"/>
<polygon points="297.40,220.61 304.40,216.81 304.40,224.41" fill="#CC9900"/>
<polygon points="302.67,215.76 309.67,211.96 309.67,219.56" fill="#CC9900"/>
<polygon points="307.95,214.51 314.95,210.71 314.95,218.31" fill="#CC9900"/>
<polygon points="313.22,211.13 320.22,207.33 320.22,214.93" fill="#CC9900"/>
<polygon points="318.49,206.74 325.49,202.94 325.49,210.54" fill="#CC9900"/>
<polygon points="323.77,204.31 330.77,200.51 330.77,208.11" fill="#CC9900"/>
<polygon points="329.04,196.28 336.04,192.48 336.04,200.08" fill="#CC9900"/>
<polygon points="334.31,186.77 341.31,182.97 341.31,190.57" fill="#CC9900"/>
<polygon points="339.59,178.27 346.59,174.47 346.59,182.07" fill="#CC9900"/>
<polygon points="344.86,166.46 351.86,162.66 351.86,170.26" fill="#CC9900"/>
<polygon points="350.13,153.72 357.13,149.92 357.13,157.52" fill="#CC9900"/>
<polygon points="355.41,137.18 362.41,133.38 362.41,140.98" fill="#CC9900"/>
<polygon points="360.68,118.16 367.68,114.36 367.68,121.96" fill="#CC9900"/>
<polygon points="365.95,95.95 372.95,92.15 372.95,99.75" fill="#CC9900"/>
<polygon points="371.23,63.86 378.23,60.06 378.23,67.66" fill="#CC9900"/>
<polygon points="376.50,40.34 383.50,36.54 383.50,44.14" fill="#CC9900"/>
<polyline fill="none" stroke="#00CBCC" stroke-width="0.6" points="69.27,37.41 74.55,70.85 79.82,95.72 85.09,116.79 90.37,136.97 95.64,153.84 100.91,168.08 106.19,178.77 111.46,187.01 116.73,194.49 122.01,201.21 127.28,207.09 132.55,210.87 137.83,213.30 143.10,216.33 148.37,217.93 153.65,217.78 158.92,220.72 164.19,220.23 169.47,222.52 174.74,222.74 180.01,225.50 185.29,223.20 190.56,225.19 195.83,226.47 201.11,223.71 206.38,226.13 211.65,223.39 216.93,227.65 222.20,228.81 227.47,228.26 232.75,226.20 238.02,227.66 243.29,226.45 248.57,225.48 253.84,226.06 259.11,223.53 264.39,223.15 269.66,222.65 274.93,218.57 280.21,217.29 285.48,215.97 290.75,215.37 296.03,214.76 301.30,210.12 306.57,209.45 311.85,209.95 317.12,206.21 322.39,204.39 327.67,198.26 332.94,193.09 338.21,185.71 343.49,178.36 348.76,167.54 354.03,154.64 359.31,137.14 364.58,118.45 369.85,95.99 375.13,74.67 380.40,46.06"/>
<polygon points="73.17,37.41 66.17,33.61 66.17,41.21" fill="#00CBCC"/>
<polygon points="78.45,70.85 71.45,67.05 71.45,74.65" fill="#00CBCC"/>
<polygon points="83.72,95.72 76.72,91.92 76.72,99.52" fill="#00CBCC"/>
<polygon points="88.99,116.79 81.99,112.99 81.99,120.59" fill="#00CBCC"/>
<polygon points="94.27,136.97 87.27,133.17 87.27,140.77" fill="#00CBCC"/>
<polygon points="99.54,153.84 92.54,150.04 92.54,157.64" fill="#00CBCC"/>
<polygon points="104.81,168.08 97.81,164.28 97.81,171.88" fill="#00CBCC"/>
<polygon points="110.09,178.77 103.09,174.97 103.09,182.57" fill="#00CBCC"/>
<polygon points="115.36,187.01 108.36,183.21 108.36,190.81" fill="#00CBCC"/>
<polygon points="120.63,194.49 113.63,190.69 113.63,198.29" fill="#00CBCC"/>
<polygon points="125.91,201.21 118.91,197.41 118.91,205.01" fill="#00CBCC"/>
<polygon points="131.18,207.09 124.18,203.29 124.18,210.89" fill="#00CBCC"/>
<polygon points="136.45,210.87 129.45,207.07 129.45,214.67" fill="#00CBCC"/>
<polygon points="141.73,213.30 134.73,209.50 134.73,217.10" fill="#00CBCC"/>
<polygon points="147.00,216.33 140.00,212.53 140.00,220.13" fill="#00CBCC"/>
<polygon points="152.27,217.93 145.27,214.13 145.27,221.73" fill="#00CBCC"/>
<polygon points="157.55,217.78 150.55,213.98 150.55,221.58" fill="#00CBCC"/>
<polygon points="162.82,220.72 155.82,216.92 155.82,224.52" fill="#00CBCC"/>
<polygon points="168.09,220.23 161.09,216.43 161.09,224.03" fill="#00CBCC"/>
<polygon points="173.37,222.52 166.37,218.72 166.37,226.32" fill="#00CBCC"/>
<polygon points="178.64,222.74 171.64,218.94 171.64,226.54" fill="#00CBCC"/>
<polygon points="183.91,225.50 176.91,221.70 176.91,229.30" fill="#00CBCC"/>
<polygon points="189.19,223.20 182.19,219.40 182.19,227.00" fill="#00CBCC"/>
<polygon points="194.46,225.19 187.46,221.39 187.46,228.99" fill="#00CBCC"/>
<polygon points="199.73,226.47 192.73,222.67 192.73,230.27" fill="#00CBCC"/>
<polygon points="205.01,223.71 198.01,219.91 198.01,227.51" fill="#00CBCC"/>
<polygon points="210.28,226.13 203.28,222.33 203.28,229.93" fill="#00CBCC"/>
<polygon points="215.55,223.39 208.55,219.59 208.55,227.19" fill="#00CBCC"/>
<polygon points="220.83,227.65 213.83,223.85 213.83,231.45" fill="#00CBCC"/>
<polygon points="226.10,228.81 219.10,225.01 219.10,232.61" fill="#00CBCC"/>
<polygon points="231.37,228.26 224.37,224.46 224.37,232.06" fill="#00CBCC"/>
<polygon points="236.65,226.20 229.65,222.40 229.65,230.00" fill="#00CBCC"/>
<polygon points="241.92,227.66 234.92,223.86 234.92,231.46" fill="#00CBCC"/>
<polygon points="247.19,226.45 240.19,222.65 240.19,230.25" fill="#00CBCC"/>
<polygon points="252.47,225.48 245.47,221.68 245.47,229.28" fill="#00CBCC"/>
<polygon points="257.74,226.06 250.74,222.26 250.74,229.86" fill="#00CBCC"/>
<polygon points="263.01,223.53 256.01,219.73 256.01,227.33" fill="#00CBCC"/>
<polygon points="268.29,223.15 261.29,219.35 261.29,226.95" fill="#00CBCC"/>
<polygon points="273.56,222.65 266.56,218.85 266.56,226.45" fill="#00CBCC"/>
<polygon points="278.83,218.57 271.83,214.77 271.83,222.37" fill="#00CBCC"/>
<polygon points="284.11,217.29 277.11,213.49 277.11,221.09" fill="#00CBCC"/>
<polygon points="289.38,215.97 282.38,212.17 282.38,219.77" fill="#00CBCC"/>
<polygon points="294.65,215.37 287.65,211.57 287.65,219.17" fill="#00CBCC"/>
<polygon points="299.93,214.76 292.93,210.96 292.93,218.56" fill="#00CBCC"/>
<polygon points="305.20,210.12 298.20,206.32 298.20,213.92" fill="#00CBCC"/>
<polygon points="310.47,209.45 303.47,205.65 303.47,213.25" fill="#00CBCC"/>
<polygon points="315.75,209.95 308.75,206.15 308.75,213.75" fill="#00CBCC"/>
<polygon points="321.02,206.21 314.02,202.41 314.02,210.01" fill="#00CBCC"/>
<polygon points="326.29,204.39 319.29,200.59 319.29,208.19" fill="#00CBCC"/>
<polygon points="331.57,198.26 324.57,194.46 324.57,202.06" fill="#00CBCC"/>
<polygon points="336.84,193.09 329.84,189.29 329.84,196.89" fill="#00CBCC"/>
<polygon points="342.11,185.71 335.11,181.91 335.11,189.51" fill="#00CBCC"/>
<polygon points="347.39,178.36 340.39,174.56 340.39,182.16" fill="#00CBCC"/>
<polygon points="352.66,167.54 345.66,163.74 345.66,171.34" fill="#00CBCC"/>
<polygon points="357.93,154.64 350.93,150.84 350.93,158.44" fill="#00CBCC"/>
<polygon points="363.21,137.14 356.21,133.34 356.21,140.94" fill="#00CBCC"/>
<polygon points="368.48,118.45 361.48,114.65 361.48,122.25" fill="#00CBCC"/>
<polygon points="373.75,95.99 366.75,92.19 366.75,99.79" fill="#00CBCC"/>
<polygon points="379.03,74.67 372.03,70.87 372.03,78.47" fill="#00CBCC"/>
<polygon points="384.30,46.06 377.30,42.26 377.30,49.86" fill="#00CBCC"/>
<polyline fill="none" stroke="#7D4E4E" stroke-width="0.6" points="69.27,38.43 74.55,68.95 79.82,92.54 85.09,115.62 90.37,137.43 95.64,153.25 100.91,168.55 106.19,178.77 111.46,186.79 116.73,194.85 122.01,201.37 127.28,208.74 132.55,210.25 137.83,212.56 143.10,215.72 148.37,219.00 153.65,218.82 158.92,219.88 164.19,222.95 169.47,224.54 174.74,222.76 180.01,229.99 185.29,230.04 190.56,234.41 195.83,232.75 201.11,233.99 206.38,235.42 211.65,235.41 216.93,229.90 222.20,234.97 227.47,234.77 232.75,228.93 238.02,233.88 243.29,237.29 248.57,231.23 253.84,233.33 259.11,225.83 264.39,231.66 269.66,228.65 274.93,229.60 280.21,223.96 285.48,224.62 290.75,220.54 296.03,219.41 301.30,218.10 306.57,212.92 311.85,211.38 317.12,210.12 322.39,207.77 327.67,201.91 332.94,194.23 338.21,184.11 343.49,179.06 348.76,168.31 354.03,154.76 359.31,137.95 364.58,116.60 369.85,93.83 375.13,66.40 380.40,38.43"/>
<polygon points="72.72,38.43 71.00,41.42 67.55,41.42 65.82,38.43 67.55,35.44 71.00,35.44" fill="#7D4E4E"/>
<polygon points="78.00,68.95 76.27,71.93 72.82,71.93 71.10,68.95 72.82,65.96 76.27,65.96" fill="#7D4E4E"/>
<polygon points="83.27,92.54 81.54,95.53 78.09,95.53 76.37,92.54 78.09,89.56 81.54,89.56" fill="#7D4E4E"/>
<polygon points="88.54,115.62 86.82,118.61 83.37,118.61 81.64,115.62 83.37,112.64 86.82,112.64" fill="#7D4E4E"/>
<polygon points="93.82,137.43 92.09,140.42 88.64,140.42 86.92,137.43 88.64,134.45 92.09,134.45" fill="#7D4E4E"/>
<polygon points="99.09,153.25 97.36,156.24 93.92,156.24 92.19,153.25 93.91,150.26 97.36,150.26" fill="#7D4E4E"/>
<polygon points="104.36,168.55 102.64,171.54 99.19,171.54 97.46,168.55 99.19,165.57 102.64,165.57" fill="#7D4E4E"/>
<polygon points="109.64,178.77 107.91,181.75 104.46,181.75 102.74,178.77 104.46,175.78 107.91,175.78" fill="#7D4E4E"/>
<polygon points="114.91,186.79 113.19,189.78 109.74,189.78 108.01,186.79 109.73,183.80 113.19,183.80" fill="#7D4E4E"/>
<polygon points="120.18,194.85 118.46,197.84 115.01,197.84 113.28,194.85 115.01,191.87 118.46,191.87" fill="#7D4E4E"/>
<polygon points="125.46,201.37 123.73,204.35 120.28,204.35 118.56,201.37 120.28,198.38 123.73,198.38" fill="#7D4E4E"/>
<polygon points="130.73,208.74 129.00,211.73 125.56,211.73 123.83,208.74 125.55,205.76 129.00,205.76" fill="#7D4E4E"/>
<polygon points="136.00,210.25 134.28,213.24 130.83,213.24 129.10,210.25 130.83,207.26 134.28,207.26" fill="#7D4E4E"/>
<polygon points="141.28,212.56 139.55,215.55 136.10,215.55 134.38,212.56 136.10,209.57 139.55,209.57" fill="#7D4E4E"/>
<polygon points="146.55,215.72 144.82,218.71 141.38,218.71 139.65,215.72 141.38,212.73 144.82,212.73" fill="#7D4E4E"/>
<polygon points="151.82,219.00 150.10,221.99 146.65,221.99 144.92,219.00 146.65,216.01 150.10,216.01" fill="#7D4E4E"/>
<polygon points="157.10,218.82 155.37,221.81 151.92,221.81 150.20,218.82 151.92,215.83 155.37,215.83" fill="#7D4E4E"/>
<polygon points="162.37,219.88 160.65,222.87 157.20,222.87 155.47,219.88 157.20,216.89 160.65,216.89" fill="#7D4E4E"/>
<polygon points="167.64,222.95 165.92,225.94 162.47,225.94 160.74,222.95 162.47,219.97 165.92,219.97" fill="#7D4E4E"/>
<polygon points="172.92,224.54 171.19,227.53 167.74,227.53 166.02,224.54 167.74,221.56 171.19,221.56" fill="#7D4E4E"/>
<polygon points="178.19,222.76 176.47,225.74 173.02,225.74 171.29,222.76 173.02,219.77 176.47,219.77" fill="#7D4E4E"/>
<polygon points="183.46,229.99 181.74,232.98 178.29,232.98 176.56,229.99 178.29,227.01 181.74,227.01" fill="#7D4E4E"/>
<polygon points="188.74,230.04 187.01,233.03 183.56,233.03 181.84,230.04 183.56,227.05 187.01,227.05" fill="#7D4E4E"/>
<polygon points="194.01,234.41 192.28,237.40 188.84,237.40 187.11,234.41 188.84,231.42 192.28,231.42" fill="#7D4E4E"/>
<polygon points="199.28,232.75 197.56,235.74 194.11,235.74 192.38,232.75 194.11,229.77 197.56,229.77" fill="#7D4E4E"/>
<polygon points="204.56,233.99 202.83,236.98 199.38,236.98 197.66,233.99 199.38,231.01 202.83,231.01" fill="#7D4E4E"/>
<polygon points="209.83,235.42 208.10,238.40 204.66,238.40 202.93,235.42 204.66,232.43 208.10,232.43" fill="#7D4E4E"/>
<polygon points="215.10,235.41 213.38,238.40 209.93,238.40 208.20,235.41 209.93,232.42 213.38,232.42" fill="#7D4E4E"/>
<polygon points="220.38,229.90 218.65,232.89 215.20,232.89 213.48,229.90 215.20,226.91 218.65,226.91" fill="#7D4E4E"/>
<polygon points="225.65,234.97 223.92,237.96 220.47,237.96 218.75,234.97 220.47,231.98 223.92,231.98" fill="#7D4E4E"/>
<polygon points="230.92,234.77 229.20,237.76 225.75,237.76 224.02,234.77 225.75,231.78 229.20,231.78" fill="#7D4E4E"/>
<polygon points="236.20,228.93 234.47,231.92 231.02,231.92 229.30,228.93 231.02,225.94 234.47,225.94" fill="#7D4E4E"/>
<polygon points="241.47,233.88 239.74,236.87 236.29,236.87 234.57,233.88 236.29,230.89 239.74,230.89" fill="#7D4E4E"/>
<polygon points="246.74,237.29 245.02,240.27 241.57,240.27 239.84,237.29 241.57,234.30 245.02,234.30" fill="#7D4E4E"/>
<polygon points="252.02,231.23 250.29,234.22 246.84,234.22 245.12,231.23 246.84,228.25 250.29,228.25" fill="#7D4E4E"/>
<polygon points="257.29,233.33 255.56,236.31 252.12,236.31 250.39,233.33 252.12,230.34 255.56,230.34" fill="#7D4E4E"/>
<polygon points="262.56,225.83 260.84,228.82 257.39,228.82 255.66,225.83 257.39,222.84 260.84,222.84" fill="#7D4E4E"/>
<polygon points="267.84,231.66 266.11,234.64 262.66,234.64 260.94,231.66 262.66,228.67 266.11,228.67" fill="#7D4E4E"/>
<polygon points="273.11,228.65 271.38,231.64 267.93,231.64 266.21,228.65 267.93,225.66 271.38,225.66" fill="#7D4E4E"/>
<polygon points="278.38,229.60 276.66,232.59 273.21,232.59 271.48,229.60 273.21,226.61 276.66,226.61" fill="#7D4E4E"/>
<polygon points="283.66,223.96 281.93,226.95 278.48,226.95 276.76,223.96 278.48,220.97 281.93,220.97" fill="#7D4E4E"/>
<polygon points="288.93,224.62 287.21,227.60 283.75,227.60 282.03,224.62 283.75,221.63 287.21,221.63" fill="#7D4E4E"/>
<polygon points="294.20,220.54 292.48,223.53 289.03,223.53 287.30,220.54 289.03,217.55 292.48,217.55" fill="#7D4E4E"/>
<polygon points="299.48,219.41 297.75,222.39 294.30,222.39 292.58,219.41 294.30,216.42 297.75,216.42" fill="#7D4E4E"/>
<polygon points="304.75,218.10 303.02,221.09 299.57,221.09 297.85,218.10 299.57,215.11 303.02,215.11" fill="#7D4E4E"/>
<polygon points="310.02,212.92 308.30,215.91 304.85,215.91 303.12,212.92 304.85,209.93 308.30,209.93" fill="#7D4E4E"/>
<polygon points="315.30,211.38 313.57,214.37 310.12,214.37 308.40,211.38 310.12,208.39 313.57,208.39" fill="#7D4E4E"/>
<polygon points="320.57,210.12 318.85,213.11 315.39,213.11 313.67,210.12 315.39,207.14 318.85,207.14" fill="#7D4E4E"/>
<polygon points="325.84,207.77 324.12,210.75 320.67,210.75 318.94,207.77 320.67,204.78 324.12,204.78" fill="#7D4E4E"/>
<polygon points="331.12,201.91 329.39,204.90 325.94,204.90 324.22,201.91 325.94,198.93 329.39,198.93" fill="#7D4E4E"/>
<polygon points="336.39,194.23 334.67,197.22 331.21,197.22 329.49,194.23 331.21,191.24 334.67,191.24" fill="#7D4E4E"/>
<polygon points="341.66,184.11 339.94,187.10 336.49,187.10 334.76,184.11 336.49,181.12 339.94,181.12" fill="#7D4E4E"/>
<polygon points="346.94,179.06 345.21,182.05 341.76,182.05 340.04,179.06 341.76,176.08 345.21,176.08" fill="#7D4E4E"/>
<polygon points="352.21,168.31 350.49,171.30 347.03,171.30 345.31,168.31 347.03,165.33 350.49,165.33" fill="#7D4E4E"/>
<polygon points="357.48,154.76 355.76,157.74 352.31,157.74 350.58,154.76 352.31,151.77 355.76,151.77" fill="#7D4E4E"/>
<polygon points="362.76,137.95 361.03,140.93 357.58,140.93 355.86,137.95 357.58,134.96 361.03,134.96" fill="#7D4E4E"/>
<polygon points="368.03,116.60 366.31,119.59 362.85,119.59 361.13,116.60 362.85,113.62 366.31,113.62" fill="#7D4E4E"/>
<polygon points="373.30,93.83 371.58,96.82 368.13,96.82 366.40,93.83 368.13,90.85 371.58,90.85" fill="#7D4E4E"/>
<polygon points="378.58,66.40 376.85,69.39 373.40,69.39 371.68,66.40 373.40,63.42 376.85,63.42" fill="#7D4E4E"/>
<polygon points="383.85,38.43 382.12,41.42 378.67,41.42 376.95,38.43 378.67,35.44 382.12,35.44" fill="#7D4E4E"/>
<polyline fill="none" stroke="#8E8E00" stroke-width="0.6" points="69.27,38.43 74.55,69.58 79.82,96.49 85.09,118.34 90.37,136.53 95.64,153.99 100.91,167.84 106.19,178.45 111.46,186.70 116.73,193.27 122.01,201.86 127.28,207.45 132.55,210.08 137.83,214.77 143.10,214.84 148.37,218.50 153.65,220.21 158.92,222.95 164.19,226.46 169.47,227.99 174.74,223.90 180.01,228.26 185.29,229.74 190.56,230.23 195.83,232.25 201.11,232.52 206.38,235.90 211.65,236.45 216.93,234.63 222.20,237.46 227.47,239.36 232.75,236.97 238.02,237.07 243.29,234.20 248.57,235.89 253.84,235.40 259.11,232.72 264.39,227.93 269.66,229.63 274.93,227.70 280.21,226.47 285.48,223.88 290.75,220.88 296.03,218.09 301.30,221.79 306.57,214.48 311.85,214.82 317.12,211.98 322.39,204.39 327.67,201.34 332.94,193.15 338.21,185.96 343.49,179.46 348.76,167.27 354.03,153.61 359.31,137.06 364.58,118.24 369.85,94.78 375.13,59.41 380.40,38.43"/>
<polygon points="69.27,35.03 70.16,37.42 72.70,37.52 70.70,39.09 71.39,41.54 69.27,40.13 67.16,41.54 67.85,39.09 65.85,37.52 68.39,37.42" fill="#8E8E00"/>
<polygon points="74.55,66.18 75.43,68.57 77.97,68.67 75.97,70.25 76.66,72.69 74.55,71.28 72.43,72.69 73.12,70.25 71.12,68.67 73.66,68.57" fill="#8E8E00"/>
<polygon points="79.82,93.09 80.70,95.47 83.24,95.57 81.25,97.15 81.94,99.60 79.82,98.19 77.70,99.60 78.39,97.15 76.40,95.57 78.94,95.47" fill="#8E8E00"/>
<polygon points="85.09,114.94 85.98,117.32 88.52,117.42 86.52,119.00 87.21,121.45 85.09,120.04 82.98,121.45 83.67,119.00 81.67,117.42 84.21,117.32" fill="#8E8E00"/>
<polygon points="90.37,133.13 91.25,135.51 93.79,135.61 91.79,137.19 92.48,139.64 90.37,138.23 88.25,139.64 88.94,137.19 86.94,135.61 89.48,135.51" fill="#8E8E00"/>
<polygon points="95.64,150.59 96.52,152.98 99.06,153.08 97.07,154.65 97.76,157.10 95.64,155.69 93.52,157.10 94.21,154.65 92.22,153.08 94.76,152.98" fill="#8E8E00"/>
<polygon points="100.91,164.44 101.80,166.83 104.34,166.93 102.34,168.51 103.03,170.96 100.91,169.54 98.80,170.96 99.49,168.51 97.49,166.93 100.03,166.83" fill="#8E8E00"/>
<polygon points="106.19,175.05 107.07,177.43 109.61,177.54 107.61,179.11 108.30,181.56 106.19,180.15 104.07,181.56 104.76,179.11 102.76,177.54 105.30,177.43" fill="#8E8E00"/>
<polygon points="111.46,183.30 112.34,185.69 114.88,185.79 112.89,187.37 113.58,189.82 111.46,188.40 109.34,189.82 110.03,187.37 108.04,185.79 110.58,185.69" fill="#8E8E00"/>
<polygon points="116.73,189.87 117.62,192.26 120.16,192.36 118.16,193.94 118.85,196.39 116.73,194.97 114.62,196.39 115.31,193.94 113.31,192.36 115.85,192.26" fill="#8E8E00"/>
<polygon points="122.01,198.46 122.89,200.85 125.43,200.95 123.43,202.53 124.12,204.98 122.01,203.56 119.89,204.98 120.58,202.53 118.58,200.95 121.12,200.85" fill="#8E8E00"/>
<polygon points="127.28,204.05 128.16,206.43 130.70,206.53 128.71,208.11 129.40,210.56 127.28,209.15 125.16,210.56 125.85,208.11 123.86,206.53 126.40,206.43" fill="#8E8E00"/>
<polygon points="132.55,206.68 133.44,209.07 135.98,209.17 133.98,210.75 134.67,213.20 132.55,211.78 130.44,213.20 131.13,210.75 129.13,209.17 131.67,209.07" fill="#8E8E00"/>
<polygon points="137.83,211.37 138.71,213.76 141.25,213.86 139.25,215.43 139.94,217.88 137.83,216.47 135.71,217.88 136.40,215.43 134.40,213.86 136.94,213.76" fill="#8E8E00"/>
<polygon points="143.10,211.44 143.98,213.83 146.52,213.93 144.53,215.50 145.22,217.95 143.10,216.54 140.98,217.95 141.67,215.50 139.68,213.93 142.22,213.83" fill="#8E8E00"/>
<polygon points="148.37,215.10 149.26,217.48 151.80,217.58 149.80,219.16 150.49,221.61 148.37,220.20 146.26,221.61 146.95,219.16 144.95,217.58 147.49,217.48" fill="#8E8E00"/>
<polygon points="153.65,216.81 154.53,219.20 157.07,219.30 155.07,220.88 155.76,223.33 153.65,221.91 151.53,223.33 152.22,220.88 150.22,219.30 152.76,219.20" fill="#8E8E00"/>
<polygon points="158.92,219.55 159.80,221.93 162.34,222.03 160.35,223.61 161.04,226.06 158.92,224.65 156.80,226.06 157.49,223.61 155.50,222.03 158.04,221.93" fill="#8E8E00"/>
<polygon points="164.19,223.06 165.08,225.45 167.62,225.55 165.62,227.13 166.31,229.58 164.19,228.16 162.08,229.58 162.77,227.13 160.77,225.55 163.31,225.45" fill="#8E8E00"/>
<polygon points="169.47,224.59 170.35,226.98 172.89,227.08 170.89,228.66 171.58,231.11 169.47,229.69 167.35,231.11 168.04,228.66 166.04,227.08 168.58,226.98" fill="#8E8E00"/>
<polygon points="174.74,220.50 175.62,222.89 178.16,222.99 176.17,224.57 176.86,227.02 174.74,225.60 172.62,227.02 173.31,224.57 171.32,222.99 173.86,222.89" fill="#8E8E00"/>
<polygon points="180.01,224.86 180.90,227.25 183.44,227.35 181.44,228.93 182.13,231.38 180.01,229.96 177.90,231.38 178.59,228.93 176.59,227.35 179.13,227.25" fill="#8E8E00"/>
<polygon points="185.29,226.34 186.17,228.73 188.71,228.83 186.71,230.41 187.40,232.86 185.29,231.44 183.17,232.86 183.86,230.41 181.86,228.83 184.40,228.73" fill="#8E8E00"/>
<polygon points="190.56,226.83 191.44,229.22 193.98,229.32 191.99,230.89 192.68,233.34 190.56,231.93 188.44,233.34 189.13,230.89 187.14,229.32 189.68,229.22" fill="#8E8E00"/>
<polygon points="195.83,228.85 196.72,231.24 199.26,231.34 197.26,232.91 197.95,235.36 195.83,233.95 193.72,235.36 194.41,232.91 192.41,231.34 194.95,231.24" fill="#8E8E00"/>
<polygon points="201.11,229.12 201.99,231.51 204.53,231.61 202.53,233.18 203.22,235.63 201.11,234.22 198.99,235.63 199.68,233.18 197.68,231.61 200.22,231.51" fill="#8E8E00"/>
<polygon points="206.38,232.50 207.26,234.89 209.80,234.99 207.81,236.56 208.50,239.01 206.38,237.60 204.26,239.01 204.95,236.56 202.96,234.99 205.50,234.89" fill="#8E8E00"/>
<polygon points="211.65,233.05 212.54,235.44 215.08,235.54 213.08,237.12 213.77,239.57 211.65,238.15 209.54,239.57 210.23,237.12 208.23,235.54 210.77,235.44" fill="#8E8E00"/>
<polygon points="216.93,231.23 217.81,233.61 220.35,233.72 218.35,235.29 219.04,237.74 216.93,236.33 214.81,237.74 215.50,235.29 213.50,233.72 216.04,233.61" fill="#8E8E00"/>
<polygon points="222.20,234.06 223.08,236.45 225.62,236.55 223.63,238.13 224.32,240.58 222.20,239.16 220.08,240.58 220.77,238.13 218.78,236.55 221.32,236.45" fill="#8E8E00"/>
<polygon points="227.47,235.96 228.36,238.34 230.90,238.44 228.90,240.02 229.59,242.47 227.47,241.06 225.36,242.47 226.05,240.02 224.05,238.44 226.59,238.34" fill="#8E8E00"/>
<polygon points="232.75,233.57 233.63,235.95 236.17,236.05 234.17,237.63 234.86,240.08 232.75,238.67 230.63,240.08 231.32,237.63 229.32,236.05 231.86,235.95" fill="#8E8E00"/>
<polygon points="238.02,233.67 238.90,236.06 241.44,236.16 239.45,237.74 240.14,240.19 238.02,238.77 235.90,240.19 236.59,237.74 234.60,236.16 237.14,236.06" fill="#8E8E00"/>
<polygon points="243.29,230.80 244.18,233.19 246.72,233.29 244.72,234.86 245.41,237.31 243.29,235.90 241.18,237.31 241.87,234.86 239.87,233.29 242.41,233.19" fill="#8E8E00"/>
<polygon points="248.57,232.49 249.45,234.87 251.99,234.97 249.99,236.55 250.68,239.00 248.57,237.59 246.45,239.00 247.14,236.55 245.14,234.97 247.68,234.87" fill="#8E8E00"/>
<polygon points="253.84,232.00 254.72,234.39 257.26,234.49 255.27,236.07 255.96,238.51 253.84,237.10 251.72,238.51 252.41,236.07 250.42,234.49 252.96,234.39" fill="#8E8E00"/>
<polygon points="259.11,229.32 260.00,231.71 262.54,231.81 260.54,233.38 261.23,235.83 259.11,234.42 257.00,235.83 257.69,233.38 255.69,231.81 258.23,231.71" fill="#8E8E00"/>
<polygon points="264.39,224.53 265.27,226.92 267.81,227.02 265.81,228.60 266.50,231.05 264.39,229.63 262.27,231.05 262.96,228.60 260.96,227.02 263.50,226.92" fill="#8E8E00"/>
<polygon points="269.66,226.23 270.54,228.62 273.08,228.72 271.09,230.29 271.78,232.74 269.66,231.33 267.54,232.74 268.23,230.29 266.24,228.72 268.78,228.62" fill="#8E8E00"/>
<polygon points="274.93,224.30 275.82,226.69 278.36,226.79 276.36,228.36 277.05,230.81 274.93,229.40 272.82,230.81 273.51,228.36 271.51,226.79 274.05,226.69" fill="#8E8E00"/>
<polygon points="280.21,223.07 281.09,225.45 283.63,225.55 281.63,227.13 282.32,229.58 280.21,228.17 278.09,229.58 278.78,227.13 276.78,225.55 279.32,225.45" fill="#8E8E00"/>
<polygon points="285.48,220.48 286.36,222.87 288.90,222.97 286.91,224.54 287.60,226.99 285.48,225.58 283.36,226.99 284.05,224.54 282.06,222.97 284.60,222.87" fill="#8E8E00"/>
<polygon points="290.75,217.48 291.64,219.86 294.18,219.96 292.18,221.54 292.87,223.99 290.75,222.58 288.64,223.99 289.33,221.54 287.33,219.96 289.87,219.86" fill="#8E8E00"/>
<polygon points="296.03,214.69 296.91,217.07 299.45,217.17 297.45,218.75 298.14,221.20 296.03,219.79 293.91,221.20 294.60,218.75 292.60,217.17 295.14,217.07" fill="#8E8E00"/>
<polygon points="301.30,218.39 302.18,220.78 304.72,220.88 302.73,222.46 303.42,224.90 301.30,223.49 299.18,224.90 299.87,222.46 297.88,220.88 300.42,220.78" fill="#8E8E00"/>
<polygon points="306.57,211.08 307.46,213.47 310.00,213.57 308.00,215.15 308.69,217.59 306.57,216.18 304.46,217.59 305.15,215.15 303.15,213.57 305.69,213.47" fill="#8E8E00"/>
<polygon points="311.85,211.42 312.73,213.80 315.27,213.90 313.27,215.48 313.96,217.93 311.85,216.52 309.73,217.93 310.42,215.48 308.42,213.90 310.96,213.80" fill="#8E8E00"/>
<polygon points="317.12,208.58 318.00,210.97 320.54,211.07 318.55,212.65 319.24,215.10 317.12,213.68 315.00,215.10 315.69,212.65 313.70,211.07 316.24,210.97" fill="#8E8E00"/>
<polygon points="322.39,200.99 323.28,203.37 325.82,203.48 323.82,205.05 324.51,207.50 322.39,206.09 320.28,207.50 320.97,205.05 318.97,203.48 321.51,203.37" fill="#8E8E00"/>
<polygon points="327.67,197.94 328.55,200.33 331.09,200.43 329.09,202.00 329.78,204.45 327.67,203.04 325.55,204.45 326.24,202.00 324.24,200.43 326.78,200.33" fill="#8E8E00"/>
<polygon points="332.94,189.75 333.82,192.13 336.36,192.23 334.37,193.81 335.06,196.26 332.94,194.85 330.82,196.26 331.51,193.81 329.52,192.23 332.06,192.13" fill="#8E8E00"/>
<polygon points="338.21,182.56 339.10,184.95 341.64,185.05 339.64,186.62 340.33,189.07 338.21,187.66 336.10,189.07 336.79,186.62 334.79,185.05 337.33,184.95" fill="#8E8E00"/>
<polygon points="343.49,176.06 344.37,178.44 346.91,178.54 344.91,180.12 345.60,182.57 343.49,181.16 341.37,182.57 342.06,180.12 340.06,178.54 342.60,178.44" fill="#8E8E00"/>
<polygon points="348.76,163.87 349.64,166.25 352.18,166.35 350.19,167.93 350.88,170.38 348.76,168.97 346.64,170.38 347.33,167.93 345.34,166.35 347.88,166.25" fill="#8E8E00"/>
<polygon points="354.03,150.21 354.92,152.60 357.46,152.70 355.46,154.28 356.15,156.72 354.03,155.31 351.92,156.72 352.61,154.28 350.61,152.70 353.15,152.60" fill="#8E8E00"/>
<polygon points="359.31,133.66 360.19,136.05 362.73,136.15 360.73,137.72 361.42,140.17 359.31,138.76 357.19,140.17 357.88,137.72 355.88,136.15 358.42,136.05" fill="#8E8E00"/>
<polygon points="364.58,114.84 365.46,117.23 368.00,117.33 366.01,118.90 366.70,121.35 364.58,119.94 362.46,121.35 363.15,118.90 361.16,117.33 363.70,117.23" fill="#8E8E00"/>
<polygon points="369.85,91.38 370.74,93.77 373.28,93.87 371.28,95.45 371.97,97.89 369.85,96.48 367.74,97.89 368.43,95.45 366.43,93.87 368.97,93.77" fill="#8E8E00"/>
<polygon points="375.13,56.01 376.01,58.40 378.55,58.50 376.55,60.07 377.24,62.52 375.13,61.11 373.01,62.52 373.70,60.07 371.70,58.50 374.24,58.40" fill="#8E8E00"/>
<polygon points="380.40,35.03 381.28,37.42 383.82,37.52 381.83,39.09 382.52,41.54 380.40,40.13 378.28,41.54 378.97,39.09 376.98,37.52 379.52,37.42" fill="#8E8E00"/>
</g>
<g font-family="Liberation Serif, serif" font-size="17" fill="#000">
<text x="64.00" y="285.8" text-anchor="middle">0</text>
<text x="116.73" y="285.8" text-anchor="middle">10</text>
<text x="169.47" y="285.8" text-anchor="middle">20</text>
<text x="222.20" y="285.8" text-anchor="middle">30</text>
<text x="274.93" y="285.8" text-anchor="middle">40</text>
<text x="327.67" y="285.8" text-anchor="middle">50</text>
<text x="380.40" y="285.8" text-anchor="middle">60</text>
<text x="58.6" y="18.10" text-anchor="end">1.2</text>
<text x="58.6" y="43.53" text-anchor="end">1.0</text>
<text x="58.6" y="68.96" text-anchor="end">0.8</text>
<text x="58.6" y="94.39" text-anchor="end">0.6</text>
<text x="58.6" y="119.82" text-anchor="end">0.4</text>
<text x="58.6" y="145.25" text-anchor="end">0.2</text>
<text x="58.6" y="170.68" text-anchor="end">0.0</text>
<text x="58.6" y="196.11" text-anchor="end">-0.2</text>
<text x="58.6" y="221.54" text-anchor="end">-0.4</text>
<text x="58.6" y="246.97" text-anchor="end">-0.6</text>
<text x="58.6" y="272.40" text-anchor="end">-0.8</text>
<text x="222.15" y="312.3" font-size="16.9" text-anchor="middle">Measurement point</text>
<text transform="translate(17.1,135.35) rotate(-90)" font-size="17" text-anchor="middle">Boundary mode</text>
<line x1="93.00" x2="131.40" y1="37.50" y2="37.50" stroke="#515151" stroke-width="0.6"/>
<rect x="109.45" y="34.75" width="5.50" height="5.50" fill="#515151"/>
<text x="134.80" y="43.10" font-size="16.7">Case 1</text>
<line x1="180.00" x2="218.40" y1="37.50" y2="37.50" stroke="#F14040" stroke-width="0.6"/>
<circle cx="199.20" cy="37.50" r="3.20" fill="#F14040"/>
<text x="222.00" y="43.10" font-size="16.7">Case 2</text>
<line x1="267.10" x2="305.50" y1="37.50" y2="37.50" stroke="#1A6FDF" stroke-width="0.6"/>
<polygon points="286.30,33.60 290.10,40.60 282.50,40.60" fill="#1A6FDF"/>
<text x="309.35" y="43.10" font-size="16.7">Case 3</text>
<line x1="93.00" x2="131.40" y1="58.25" y2="58.25" stroke="#37AD6B" stroke-width="0.6"/>
<polygon points="112.20,62.15 116.00,55.15 108.40,55.15" fill="#37AD6B"/>
<text x="134.80" y="63.85" font-size="16.7">Case 4</text>
<line x1="180.00" x2="218.40" y1="58.25" y2="58.25" stroke="#B177DE" stroke-width="0.6"/>
<polygon points="199.20,54.55 202.90,58.25 199.20,61.95 195.50,58.25" fill="#B177DE"/>
<text x="222.00" y="63.85" font-size="16.7">Case 5</text>
<line x1="267.10" x2="305.50" y1="58.25" y2="58.25" stroke="#CC9900" stroke-width="0.6"/>
<polygon points="282.40,58.25 289.40,54.45 289.40,62.05" fill="#CC9900"/>
<text x="309.35" y="63.85" font-size="16.7">Case 6</text>
<line x1="93.00" x2="131.40" y1="79.00" y2="79.00" stroke="#00CBCC" stroke-width="0.6"/>
<polygon points="116.10,79.00 109.10,75.20 109.10,82.80" fill="#00CBCC"/>
<text x="134.80" y="84.60" font-size="16.7">Case 7</text>
<line x1="180.00" x2="218.40" y1="79.00" y2="79.00" stroke="#7D4E4E" stroke-width="0.6"/>
<polygon points="202.65,79.00 200.92,81.99 197.47,81.99 195.75,79.00 197.47,76.01 200.92,76.01" fill="#7D4E4E"/>
<text x="222.00" y="84.60" font-size="16.7">Case 8</text>
<line x1="267.10" x2="305.50" y1="79.00" y2="79.00" stroke="#8E8E00" stroke-width="0.6"/>
<polygon points="286.30,75.60 287.18,77.99 289.72,78.09 287.73,79.66 288.42,82.11 286.30,80.70 284.18,82.11 284.87,79.66 282.88,78.09 285.42,77.99" fill="#8E8E00"/>
<text x="309.35" y="84.60" font-size="16.7">Case 9</text>
</g>
</svg>
</div></body></html>
